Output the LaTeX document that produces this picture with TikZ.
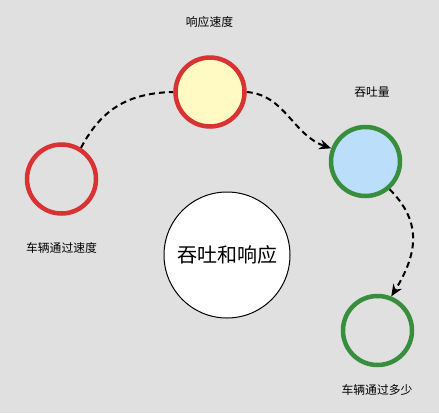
\documentclass[tikz,border=0pt]{standalone}
\usepackage{fontspec}
\setmainfont{Noto Sans CJK SC}
\usetikzlibrary{arrows.meta}
\definecolor{bg}{HTML}{E0E0E0}
\definecolor{redring}{HTML}{D83232}
\definecolor{greenring}{HTML}{388E3C}
\definecolor{yellowfill}{HTML}{FFF9C4}
\definecolor{bluefill}{HTML}{BBDEFB}
\begin{document}
\begin{tikzpicture}[x=1pt,y=-1pt,
  ring/.style={circle,line width=4.5pt,minimum size=69pt,inner sep=0pt},
  redring/.style={ring,draw=redring},
  greenring/.style={ring,draw=greenring},
  hub/.style={circle,draw=black,line width=1pt,fill=white,minimum size=126pt,inner sep=0pt,font=\fontsize{20}{24}\selectfont},
  lbl/.style={font=\fontsize{11.8}{14}\selectfont,inner sep=0pt},
  link/.style={draw=black,line width=2pt,dash pattern=on 6pt off 4pt},
  arr/.style={link,-{Stealth[length=12pt,width=10pt,inset=4pt]}}
]
\fill[bg] (0,0) rectangle (439,413);
\useasboundingbox (0,0) rectangle (439,413);
\node[redring,fill=yellowfill] (speed) at (210,92) {};
\node[redring] (pass) at (61.5,179) {};
\node[greenring,fill=bluefill] (thru) at (365.5,161.5) {};
\node[greenring] (count) at (377.5,330.5) {};
\node[hub] (hub) at (227,255) {吞吐和响应};
\node[lbl] (lspeed) at (209.5,22) {响应速度};
\node[lbl] (lthru) at (372,92) {吞吐量};
\node[lbl] (lpass) at (61.5,248) {车辆通过速度};
\node[lbl] (lcount) at (377,390) {车辆通过多少};
\draw[link] (pass.58) .. controls (100,112) and (125,93) .. (speed.west);
\draw[arr] (speed.east) .. controls (285,95) and (293,135) .. (thru.159);
\draw[arr] (thru.-49) .. controls (420,220) and (420,250) .. (count.68);
\end{tikzpicture}
\end{document}
